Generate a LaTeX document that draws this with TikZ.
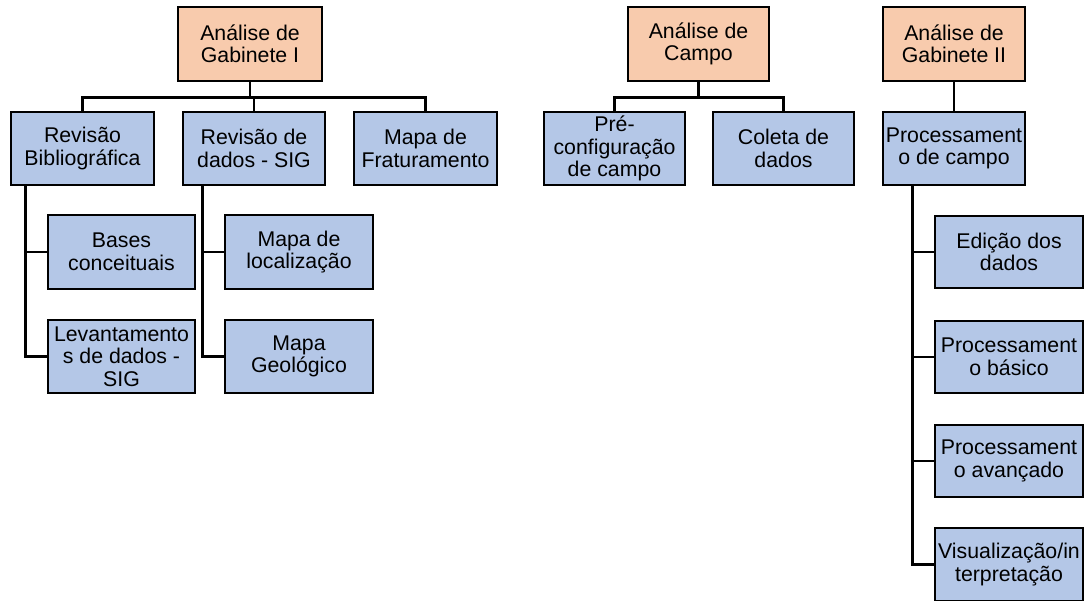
\documentclass[tikz,border=0pt]{standalone}
\usepackage{fontspec}
\setmainfont{Liberation Sans}
\usetikzlibrary{calc}
\definecolor{peach}{HTML}{F8CBAD}
\definecolor{lblue}{HTML}{B4C7E7}
\tikzset{
  box/.style={draw=black, line width=1.7pt, minimum width=143pt, minimum height=73pt, inner sep=0pt, align=center, font=\fontsize{21.3}{22.5}\selectfont},
  topbox/.style={box, fill=peach},
  subbox/.style={box, fill=lblue},
  conn/.style={draw=black, line width=2.8pt},
}
\begin{document}
\begin{tikzpicture}[x=1pt,y=-1pt]
\useasboundingbox (0,0) rectangle (1086,600);
% top level
\node[topbox, minimum width=144pt, minimum height=74pt] (G1) at (250,44) {Análise de\\Gabinete I};
\node[topbox, minimum width=141pt, minimum height=74pt] (AC) at (698.5,44) {Análise de\\Campo};
\node[topbox, minimum width=142pt, minimum height=74pt] (G2) at (954,44) {Análise de\\Gabinete II};
% second level
\node[subbox] (RB) at (82.5,148.5) {Revisão\\Bibliográfica};
\node[subbox, minimum width=142pt] (RD) at (254,148.5) {Revisão de\\dados - SIG};
\node[subbox] (MF) at (425.5,148.5) {Mapa de\\Fraturamento};
\node[subbox, minimum width=141pt] (PC) at (614.5,148.5) {Pré-\\configuração\\de campo};
\node[subbox, minimum width=141pt] (CD) at (783.5,148.5) {Coleta de\\dados};
\node[subbox, minimum width=142pt] (PR) at (954,148.5) {Processament\\o de campo};
% third level
\node[subbox, minimum width=147pt, minimum height=74pt] (BC) at (121.5,252) {Bases\\conceituais};
\node[subbox, minimum width=147pt] (LD) at (121.5,356.5) {Levantamento\\s de dados -\\SIG};
\node[subbox, minimum width=148pt, minimum height=74pt] (ML) at (299,252) {Mapa de\\localização};
\node[subbox, minimum width=148pt] (MG) at (299,356.5) {Mapa\\Geológico};
\node[subbox, minimum width=148pt, minimum height=72pt] (ED) at (1009,252) {Edição dos\\dados};
\node[subbox, minimum width=148pt, minimum height=72pt] (PB) at (1009,357) {Processament\\o básico};
\node[subbox, minimum width=148pt, minimum height=72pt] (PA) at (1009,461) {Processament\\o avançado};
\node[subbox, minimum width=148pt, minimum height=73pt] (VI) at (1009,564.5) {Visualização/in\\terpretação};
% connectors group 1
\coordinate (b1) at ($(G1.south)+(0,16)$);
\draw[conn] (G1.south) -- (b1);
\draw[conn] (RB.north) |- (b1) -| (MF.north);
\draw[conn] (RD.north) -- (RD.north |- b1);
% group 2
\coordinate (b2) at ($(AC.south)+(0,16)$);
\draw[conn] (AC.south) -- (b2);
\draw[conn] (PC.north) |- (b2) -| (CD.north);
% group 3
\draw[conn] (G2.south) -- (PR.north);
% side branches
\coordinate (v1) at ($(RB.south west)+(15,0)$);
\draw[conn] (v1) |- (LD.west);
\draw[conn] (v1 |- BC.west) -- (BC.west);
\coordinate (v2) at ($(RD.south west)+(20,0)$);
\draw[conn] (v2) |- (MG.west);
\draw[conn] (v2 |- ML.west) -- (ML.west);
\coordinate (v3) at ($(PR.south west)+(30,0)$);
\draw[conn] (v3) |- (VI.west);
\draw[conn] (v3 |- ED.west) -- (ED.west);
\draw[conn] (v3 |- PB.west) -- (PB.west);
\draw[conn] (v3 |- PA.west) -- (PA.west);
\end{tikzpicture}
\end{document}
